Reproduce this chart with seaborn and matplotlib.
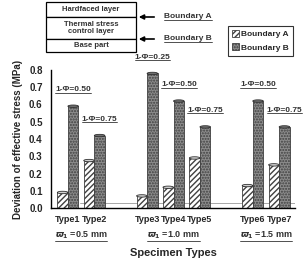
import numpy as np
import pandas as pd
import matplotlib
matplotlib.use('Agg')
import matplotlib.pyplot as plt
import seaborn as sns
from matplotlib.patches import Rectangle, Ellipse
from matplotlib.lines import Line2D
from matplotlib.transforms import IdentityTransform

# data
types = ['Type1', 'Type2', 'Type3', 'Type4', 'Type5', 'Type6', 'Type7']
boundary_a = [0.09, 0.275, 0.07, 0.12, 0.29, 0.13, 0.25]
boundary_b = [0.59, 0.42, 0.78, 0.62, 0.47, 0.62, 0.47]
phi_labels = ['1-Φ=0.50', '1-Φ=0.75', '1-Φ=0.25', '1-Φ=0.50', '1-Φ=0.75', '1-Φ=0.50', '1-Φ=0.75']
group_labels = [r'$\varpi_1$ =0.5 mm', r'$\varpi_1$ =1.0 mm', r'$\varpi_1$ =1.5 mm']
group_members = [['Type1', 'Type2'], ['Type3', 'Type4', 'Type5'], ['Type6', 'Type7']]
yticks = [0.0, 0.1, 0.2, 0.3, 0.4, 0.5, 0.6, 0.7, 0.8]

# blank slots separate the three groups
slots = ['Type1', 'Type2', ' ', 'Type3', 'Type4', 'Type5', '  ', 'Type6', 'Type7']

df = pd.DataFrame({
    'Type': types * 2,
    'Deviation': boundary_a + boundary_b,
    'Boundary': ['Boundary A'] * len(types) + ['Boundary B'] * len(types),
})

sns.set_style('white')
plt.rcParams['font.family'] = ['Liberation Sans', 'DejaVu Sans']
plt.rcParams['font.weight'] = 'bold'
plt.rcParams['mathtext.fontset'] = 'dejavusans'

W, H = 303, 262
fx = lambda x: x / W
fy = lambda y: 1 - y / H

fig = plt.figure(figsize=(W / 100, H / 100), dpi=100)
ax = fig.add_axes([fx(51), fy(208), 244 / W, 138 / H])

sns.barplot(data=df, x='Type', y='Deviation', hue='Boundary', order=slots,
            hue_order=['Boundary A', 'Boundary B'], width=0.8, errorbar=None,
            legend=False, ax=ax)

styles = [dict(facecolor='white', hatch='//////', edgecolor='#404040'),
          dict(facecolor='#8c8c8c', hatch='......', edgecolor='#404040')]
for cont, st in zip(ax.containers, styles):
    for bar in cont:
        bar.set_facecolor(st['facecolor'])
        bar.set_hatch(st['hatch'])
        bar.set_edgecolor(st['edgecolor'])
        bar.set_linewidth(0.6)
        h = bar.get_height()
        if np.isnan(h) or h == 0:
            continue
        # cylinder cap
        cap = Ellipse((bar.get_x() + bar.get_width() / 2, h), bar.get_width(), 0.014,
                      facecolor='#cfcfcf' if st['facecolor'] == 'white' else '#6e6e6e',
                      edgecolor='#303030', lw=0.6, zorder=5, clip_on=False)
        ax.add_patch(cap)

ax.set_xlim(-0.64, 8.6)
ax.set_ylim(0, 0.8)
ax.set_yticks(yticks)
ax.set_yticklabels([f'{v:.1f}' for v in yticks], fontsize=7, fontweight='bold')
ax.tick_params(axis='y', direction='in', length=3, width=0.8, pad=6)
ax.tick_params(axis='x', length=0, pad=5, labelsize=6.5)
for lab in ax.get_xticklabels():
    lab.set_fontweight('bold')
sns.despine(ax=ax)
for s in ['left', 'bottom']:
    ax.spines[s].set_color('black')
    ax.spines[s].set_linewidth(1)
ax.axhline(0.03, xmin=0.12, color='#9a9a9a', lw=0.6, zorder=0)

ax.set_xlabel('Specimen Types', fontsize=8, fontweight='bold', labelpad=17)
ax.set_ylabel('Deviation of effective stress (MPa)', fontsize=7, fontweight='bold', labelpad=4)

underlined = []

# 1-Phi labels above the Boundary B bars
for t, lab, vb in zip(types, phi_labels, boundary_b):
    xi = slots.index(t) + 0.2
    txt = ax.text(xi, vb + 0.075, lab, fontsize=6, ha='center', va='bottom',
                  color='#333333', clip_on=False)
    underlined.append(txt)

# group labels under the tick labels
for lab, members in zip(group_labels, group_members):
    xc = np.mean([slots.index(m) for m in members])
    txt = ax.text(xc, -0.2, lab, transform=ax.get_xaxis_transform(), fontsize=6.5,
                  ha='center', va='center', color='#333333')
    underlined.append(txt)

# legend box
handles = [ax.containers[0][0], ax.containers[1][0]]
leg = fig.legend(handles, ['Boundary A', 'Boundary B'], loc='upper left',
                 bbox_to_anchor=(fx(224), fy(22)), fontsize=6, frameon=True,
                 fancybox=False, edgecolor='black', handlelength=0.8, handleheight=0.8,
                 handletextpad=0.3, borderpad=0.5, labelspacing=0.6)
leg.get_frame().set_linewidth(0.8)

# layer diagram
rows = [(2, 17, 'Hardfaced layer'), (17, 39, 'Thermal stress\ncontrol layer'), (39, 52, 'Base part')]
for top, bot, name in rows:
    fig.add_artist(Rectangle((fx(46), fy(bot)), fx(136) - fx(46), fy(top) - fy(bot),
                             transform=fig.transFigure, facecolor='white',
                             edgecolor='black', lw=0.9))
    fig.text(fx(91), fy((top + bot) / 2), name, fontsize=5.5, ha='center', va='center',
             color='#333333', linespacing=1.1)

for yb, name in [(17, 'Boundary A'), (39, 'Boundary B')]:
    ax.annotate('', xy=(136, H - yb), xycoords='figure pixels', xytext=(157, H - yb),
                textcoords='figure pixels',
                arrowprops=dict(arrowstyle='-|>', color='black', lw=1.2, mutation_scale=7))
    txt = fig.text(fx(164), fy(yb), name, fontsize=6, ha='left', va='center', color='#333333')
    underlined.append(txt)

fig.canvas.draw()
for txt in underlined:
    bb = txt.get_window_extent()
    fig.add_artist(Line2D([bb.x0, bb.x1], [bb.y0 + 0.5, bb.y0 + 0.5],
                          transform=IdentityTransform(), color='#333333', lw=0.6))

fig.savefig('out.png', dpi=100)
